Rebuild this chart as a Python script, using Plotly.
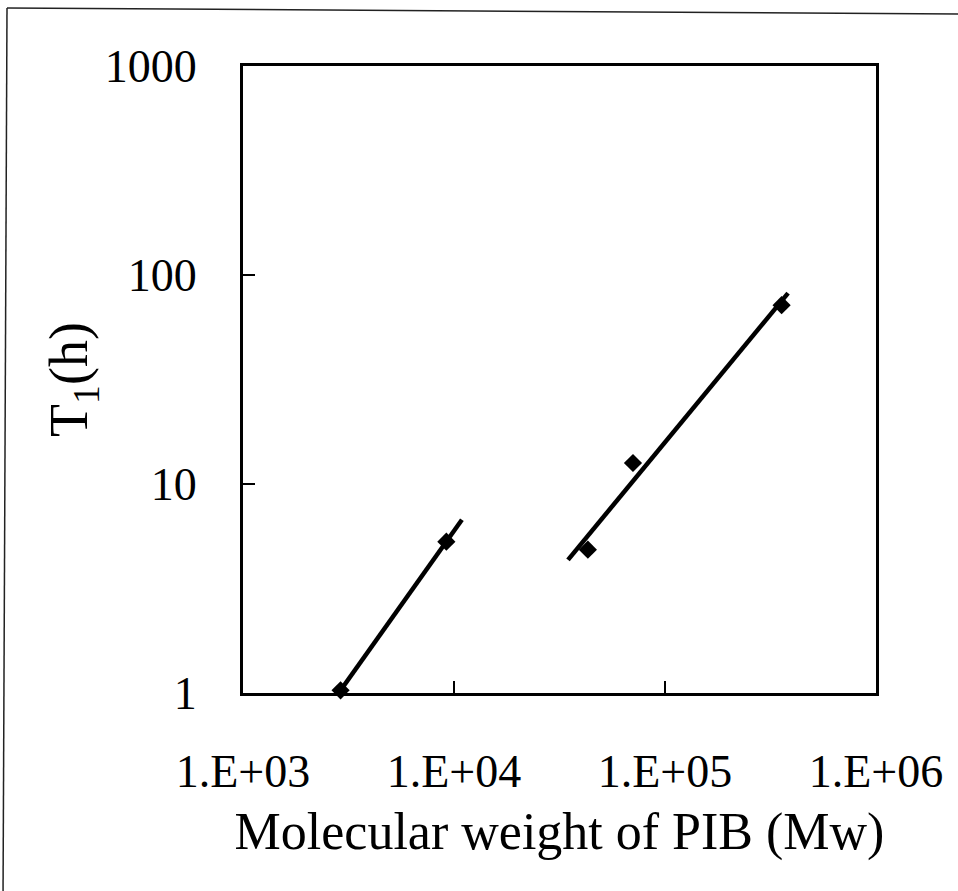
import numpy as np
import plotly.graph_objects as go

# Data
mw_low = [2900, 9200]
t1_low = [1.03, 5.3]
mw_high = [43100, 70500, 357000]
t1_high = [4.85, 12.6, 71.7]

# trendline x-extent (forecast range as drawn)
trend_low_x = [2530, 10900]
trend_high_x = [34700, 383000]

x_tickvals = [1e3, 1e4, 1e5, 1e6]
x_ticktext = ["1.E+03", "1.E+04", "1.E+05", "1.E+06"]
y_tickvals = [1, 10, 100, 1000]
y_ticktext = ["1", "10", "100", "1000"]

FONT = "Liberation Serif, Times New Roman, serif"


def power_fit(xs, ys, xe):
    b, a = np.polyfit(np.log10(xs), np.log10(ys), 1)
    xe = np.array(xe, dtype=float)
    return xe, 10 ** (a + b * np.log10(xe))


fig = go.Figure()
for xs, ys, xe in [(mw_low, t1_low, trend_low_x), (mw_high, t1_high, trend_high_x)]:
    tx, ty = power_fit(xs, ys, xe)
    fig.add_trace(go.Scatter(x=tx, y=ty, mode="lines",
                             line=dict(color="black", width=4.5),
                             showlegend=False, hoverinfo="skip", cliponaxis=False))
    fig.add_trace(go.Scatter(x=xs, y=ys, mode="markers",
                             marker=dict(symbol="diamond", size=14, color="black"),
                             showlegend=False, cliponaxis=False))

L, R, T, B = 243, 876, 66, 693
W, H = 958, 891
pw, ph = R - L, B - T

def px2paper_x(px):
    return (px - L) / pw

def px2paper_y(py):
    return (B - py) / ph

# outer frame (left and top edges visible)
fig.add_shape(type="line", xref="paper", yref="paper",
              x0=px2paper_x(7), y0=px2paper_y(8), x1=px2paper_x(3), y1=px2paper_y(900),
              line=dict(color="#222", width=1.5))
fig.add_shape(type="line", xref="paper", yref="paper",
              x0=px2paper_x(7), y0=px2paper_y(8), x1=px2paper_x(960), y1=px2paper_y(14),
              line=dict(color="#222", width=1.5))

fig.update_layout(
    width=W, height=H,
    margin=dict(l=L, r=W - R, t=T, b=H - B, autoexpand=False),
    paper_bgcolor="white", plot_bgcolor="white",
    font=dict(family=FONT, color="black"),
    showlegend=False,
)
fig.update_xaxes(
    type="log", range=[3, 6], showgrid=False, zeroline=False,
    showline=True, linecolor="black", linewidth=3, mirror=True,
    ticks="inside", ticklen=12, tickwidth=2, tickcolor="black",
    tickvals=x_tickvals, ticktext=x_ticktext,
    tickfont=dict(size=46, family=FONT),
    ticklabelstandoff=36,
    title=dict(text="Molecular weight of PIB (Mw)", font=dict(size=52, family=FONT), standoff=17),
    automargin=False,
)
fig.update_yaxes(
    type="log", range=[0, 3], showgrid=False, zeroline=False,
    showline=True, linecolor="black", linewidth=3, mirror=True,
    ticks="inside", ticklen=12, tickwidth=2, tickcolor="black",
    tickvals=y_tickvals, ticktext=y_ticktext,
    tickfont=dict(size=46, family=FONT),
    ticklabelstandoff=34,
    title=dict(text="T<sub>1</sub>(h)", font=dict(size=54, family=FONT), standoff=0),
    automargin=False,
)

fig.write_html("out.html")
